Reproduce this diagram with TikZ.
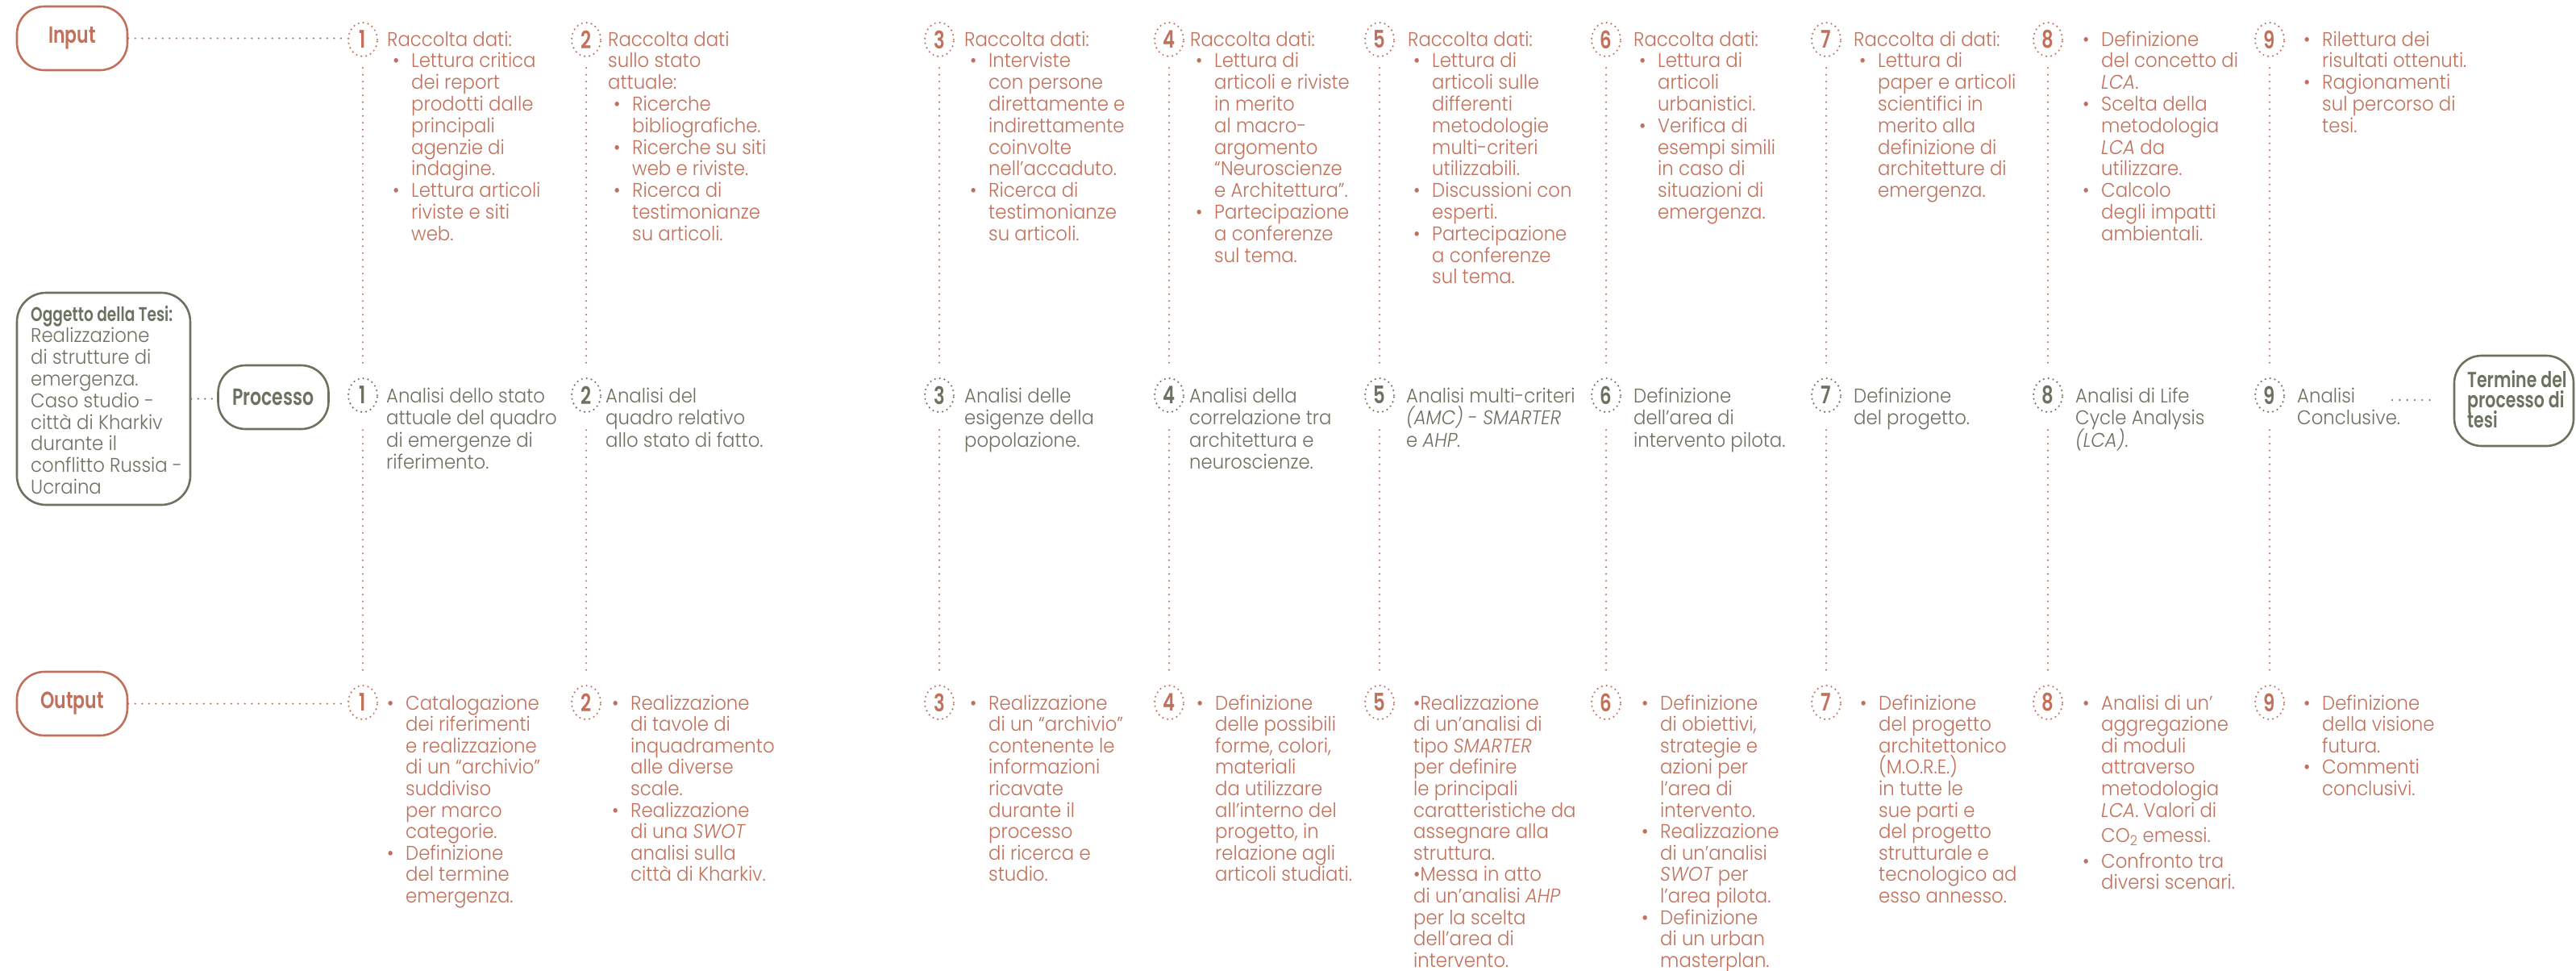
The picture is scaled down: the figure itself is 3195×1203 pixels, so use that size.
\documentclass[tikz,border=0pt]{standalone}
\usepackage{fontspec}
\setmainfont{Poppins}[
  UprightFont = * Light,
  ItalicFont = * Light Italic,
  BoldFont = * SemiBold,
  BoldItalicFont = * SemiBold Italic,
  UprightFeatures = {FakeStretch=0.93},
  ItalicFeatures = {FakeStretch=0.93},
  BoldFeatures = {FakeStretch=0.76}]
\usetikzlibrary{shapes.geometric}

\definecolor{terra}{RGB}{193,113,91}
\definecolor{sage}{RGB}{107,115,96}

% left-aligned block of lines; first baseline is the reference point
\newcommand{\txtcol}[1]{\vtop{\lineskiplimit=-100pt\relax\halign{##\hfil\cr#1\crcr}}}
% bullet / continuation indents under a heading
\newcommand{\pbul}{\hspace*{7pt}\makebox[23pt][l]{•}}
\newcommand{\pcont}{\hspace*{30pt}}
% bullet / continuation indents without a heading
\newcommand{\qbul}{\makebox[23pt][l]{•}}
\newcommand{\qcont}{\hspace*{23pt}}

\begin{document}
\begin{tikzpicture}[x=1pt,y=-1pt,
  pill/.style={draw, line width=2.6pt, rounded corners=34pt, minimum width=137pt,
    minimum height=79pt, inner sep=0pt, font=\bfseries\fontsize{29}{29}\selectfont},
  numc/.style={ellipse, draw, line width=2.4pt, line cap=round, dash pattern=on 0pt off 6pt,
    minimum width=36pt, minimum height=42pt, inner sep=0pt,
    font=\bfseries\fontsize{30}{30}\selectfont},
  body/.style={anchor=base west, inner sep=0pt, font=\fontsize{24.5}{26.8}\selectfont},
  outbody/.style={anchor=base west, inner sep=0pt, font=\fontsize{24.5}{26.6}\selectfont},
  procbody/.style={anchor=base west, inner sep=0pt, font=\fontsize{24.5}{27.5}\selectfont},
  dotlink/.style={line width=2.4pt, line cap=round, dash pattern=on 0pt off 8.5pt},
]
\useasboundingbox[fill=white] (0,0) rectangle (3195,1203);

% row headers
\node[pill, draw=terra, text=terra] (input) at (89.5,47.5) {Input};
\node[pill, draw=sage, text=sage] (proc) at (339,492.5) {Processo};
\node[pill, draw=terra, text=terra] (output) at (89.5,872.5) {Output};

% subject of the thesis
\node[draw=sage, line width=2.6pt, rounded corners=36pt, minimum width=215pt,
  minimum height=263pt, inner sep=0pt] (tesi) at (128.5,494.5) {};
\node[body, text=sage] (tesitxt) at (38,398) {\txtcol{\textbf{Oggetto della Tesi:}\cr
  Realizzazione\cr di strutture di\cr emergenza.\cr Caso studio -\cr città di Kharkiv\cr
  durante il\cr conflitto Russia -\cr Ucraina}};

% end of the process
\node[draw=sage, line width=2.6pt, rounded corners=34pt, minimum width=148pt,
  minimum height=112pt, inner sep=0pt] (term) at (3118,497) {};
\node[anchor=base west, inner sep=0pt, text=sage,
  font=\bfseries\fontsize{27}{25}\selectfont] (termtxt) at (3060,480)
  {\txtcol{Termine del\cr processo di\cr tesi}};

% numbered steps and their vertical links
\foreach \n/\cx in {1/450,2/727,3/1165,4/1450,5/1711,6/1992,7/2265,8/2540,9/2815}{
  \node[numc, draw=terra, text=terra] (i\n) at (\cx,49) {\n};
  \node[numc, draw=sage, text=sage] (p\n) at (\cx,490) {\n};
  \node[numc, draw=terra, text=terra] (o\n) at (\cx,871) {\n};
  \draw[dotlink, terra, shorten <=13pt, shorten >=17pt] (i\n.south) -- (p\n.north);
  \draw[dotlink, terra, shorten <=21pt, shorten >=13pt] (p\n.south) -- (o\n.north);
}

% horizontal links
\draw[dotlink, terra] (input.east) -- (input.east -| i1.west);
\draw[dotlink, terra] (output.east) -- (output.east -| o1.west);
\draw[dotlink, sage] (tesi.east) -- (tesi.east -| proc.west);
\coordinate (cdots) at (2967,496);
\draw[dotlink, sage, dash pattern=on 0pt off 9.3pt, shorten >=21pt] (cdots) -- (cdots -| term.west);

% ---- Input row
\node[body, text=terra] (it1) at (480,57) {\txtcol{Raccolta dati:\cr
  \pbul Lettura critica\cr \pcont dei report\cr \pcont prodotti dalle\cr \pcont principali\cr
  \pcont agenzie di\cr \pcont indagine.\cr \pbul Lettura articoli\cr \pcont riviste e siti\cr
  \pcont web.}};
\node[body, text=terra] (it2) at (754,57) {\txtcol{Raccolta dati\cr sullo stato\cr attuale:\cr
  \pbul Ricerche\cr \pcont bibliografiche.\cr \pbul Ricerche su siti\cr \pcont web e riviste.\cr
  \pbul Ricerca di\cr \pcont testimonianze\cr \pcont su articoli.}};
\node[body, text=terra] (it3) at (1196,57) {\txtcol{Raccolta dati:\cr
  \pbul Interviste\cr \pcont con persone\cr \pcont direttamente e\cr \pcont indirettamente\cr
  \pcont coinvolte\cr \pcont nell’accaduto.\cr \pbul Ricerca di\cr \pcont testimonianze\cr
  \pcont su articoli.}};
\node[body, text=terra] (it4) at (1476,57) {\txtcol{Raccolta dati:\cr
  \pbul Lettura di\cr \pcont articoli e riviste\cr \pcont in merito\cr \pcont al macro-\cr
  \pcont argomento\cr \pcont “Neuroscienze\cr \pcont e Architettura”.\cr
  \pbul Partecipazione\cr \pcont a conferenze\cr \pcont sul tema.}};
\node[body, text=terra] (it5) at (1746,57) {\txtcol{Raccolta dati:\cr
  \pbul Lettura di\cr \pcont articoli sulle\cr \pcont differenti\cr \pcont metodologie\cr
  \pcont multi-criteri\cr \pcont utilizzabili.\cr \pbul Discussioni con\cr \pcont esperti.\cr
  \pbul Partecipazione\cr \pcont a conferenze\cr \pcont sul tema.}};
\node[body, text=terra] (it6) at (2026,57) {\txtcol{Raccolta dati:\cr
  \pbul Lettura di\cr \pcont articoli\cr \pcont urbanistici.\cr \pbul Verifica di\cr
  \pcont esempi simili\cr \pcont in caso di\cr \pcont situazioni di\cr \pcont emergenza.}};
\node[body, text=terra] (it7) at (2299,57) {\txtcol{Raccolta di dati:\cr
  \pbul Lettura di\cr \pcont paper e articoli\cr \pcont scientifici in\cr \pcont merito alla\cr
  \pcont definizione di\cr \pcont architetture di\cr \pcont emergenza.}};
\node[body, text=terra] (it8) at (2583,57) {\txtcol{\qbul Definizione\cr
  \qcont del concetto di\cr \qcont \textit{LCA}.\cr \qbul Scelta della\cr \qcont metodologia\cr
  \qcont \textit{LCA} da\cr \qcont utilizzare.\cr \qbul Calcolo\cr \qcont degli impatti\cr
  \qcont ambientali.}};
\node[body, text=terra] (it9) at (2857,57) {\txtcol{\qbul Rilettura dei\cr
  \qcont risultati ottenuti.\cr \qbul Ragionamenti\cr \qcont sul percorso di\cr \qcont tesi.}};

% ---- Process row
\node[procbody, text=sage] (pt1) at (479,499) {\txtcol{Analisi dello stato\cr
  attuale del quadro\cr di emergenze di\cr riferimento.}};
\node[procbody, text=sage] (pt2) at (751,499) {\txtcol{Analisi del\cr quadro relativo\cr
  allo stato di fatto.}};
\node[procbody, text=sage] (pt3) at (1196,499) {\txtcol{Analisi delle\cr esigenze della\cr
  popolazione.}};
\node[procbody, text=sage] (pt4) at (1475,499) {\txtcol{Analisi della\cr correlazione tra\cr
  architettura e\cr neuroscienze.}};
\node[procbody, text=sage] (pt5) at (1744,499) {\txtcol{Analisi multi-criteri\cr
  \textit{(AMC)} - \textit{SMARTER}\cr e \textit{AHP.}}};
\node[procbody, text=sage] (pt6) at (2026,499) {\txtcol{Definizione\cr dell’area di\cr
  intervento pilota.}};
\node[procbody, text=sage] (pt7) at (2299,499) {\txtcol{Definizione\cr del progetto.}};
\node[procbody, text=sage] (pt8) at (2574,499) {\txtcol{Analisi di Life\cr Cycle Analysis\cr
  \textit{(LCA)}.}};
\node[procbody, text=sage] (pt9) at (2849,499) {\txtcol{Analisi\cr Conclusive.}};

% ---- Output row
\node[outbody, text=terra] (ot1) at (480,880) {\txtcol{\qbul Catalogazione\cr
  \qcont dei riferimenti\cr \qcont e realizzazione\cr \qcont di un “archivio”\cr
  \qcont suddiviso\cr \qcont per marco\cr \qcont categorie.\cr \qbul Definizione\cr
  \qcont del termine\cr \qcont emergenza.}};
\node[outbody, text=terra] (ot2) at (759,880) {\txtcol{\qbul Realizzazione\cr
  \qcont di tavole di\cr \qcont inquadramento\cr \qcont alle diverse\cr \qcont scale.\cr
  \qbul Realizzazione\cr \qcont di una \textit{SWOT}\cr \qcont analisi sulla\cr
  \qcont città di Kharkiv.}};
\node[outbody, text=terra] (ot3) at (1203,880) {\txtcol{\qbul Realizzazione\cr
  \qcont di un “archivio”\cr \qcont contenente le\cr \qcont informazioni\cr \qcont ricavate\cr
  \qcont durante il\cr \qcont processo\cr \qcont di ricerca e\cr \qcont studio.}};
\node[outbody, text=terra] (ot4) at (1484,880) {\txtcol{\qbul Definizione\cr
  \qcont delle possibili\cr \qcont forme, colori,\cr \qcont materiali\cr \qcont da utilizzare\cr
  \qcont all’interno del\cr \qcont progetto, in\cr \qcont relazione agli\cr
  \qcont articoli studiati.}};
\node[outbody, text=terra] (ot5) at (1753,880) {\txtcol{•Realizzazione\cr
  di un’analisi di\cr tipo \textit{SMARTER}\cr per definire\cr le principali\cr
  caratteristiche da\cr assegnare alla\cr struttura.\cr •Messa in atto\cr
  di un’analisi \textit{AHP}\cr per la scelta\cr dell’area di\cr intervento.}};
\node[outbody, text=terra] (ot6) at (2036,880) {\txtcol{\qbul Definizione\cr
  \qcont di obiettivi,\cr \qcont strategie e\cr \qcont azioni per\cr \qcont l’area di\cr
  \qcont intervento.\cr \qbul Realizzazione\cr \qcont di un’analisi\cr
  \qcont \textit{SWOT} per\cr \qcont l’area pilota.\cr \qbul Definizione\cr
  \qcont di un urban\cr \qcont masterplan.}};
\node[outbody, text=terra] (ot7) at (2307,880) {\txtcol{\qbul Definizione\cr
  \qcont del progetto\cr \qcont architettonico\cr \qcont (M.O.R.E.)\cr \qcont in tutte le\cr
  \qcont sue parti e\cr \qcont del progetto\cr \qcont strutturale e\cr \qcont tecnologico ad\cr
  \qcont esso annesso.}};
\node[outbody, text=terra] (ot8) at (2583,880) {\txtcol{\qbul Analisi di un’\cr
  \qcont aggregazione\cr \qcont di moduli\cr \qcont attraverso\cr \qcont metodologia\cr
  \qcont \textit{LCA}. Valori di\cr\noalign{\vskip5pt}
  \qcont CO\textsubscript{2} emessi.\cr\noalign{\vskip5pt}
  \qbul Confronto tra\cr \qcont diversi scenari.}};
\node[outbody, text=terra] (ot9) at (2857,880) {\txtcol{\qbul Definizione\cr
  \qcont della visione\cr \qcont futura.\cr \qbul Commenti\cr \qcont conclusivi.}};

\end{tikzpicture}
\end{document}
